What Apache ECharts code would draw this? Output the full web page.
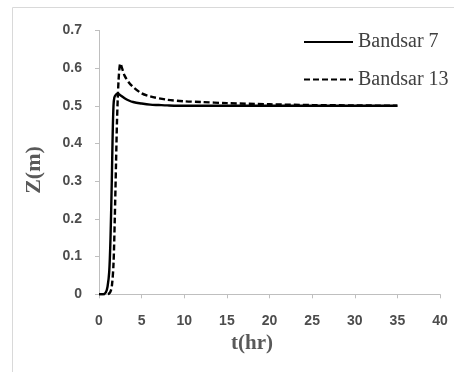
<!DOCTYPE html>
<html><head><meta charset="utf-8">
<script src="https://cdn.jsdelivr.net/npm/echarts@6/dist/echarts.min.js"></script>
<style>html,body{margin:0;padding:0;background:#fff}#c{width:454px;height:372px}</style>
</head><body><div id="c"></div>
<script>
const seriesNames = ['Bandsar 7', 'Bandsar 13'];
const tSolid = [0, 0.5, 0.8, 1.0, 1.2, 1.35, 1.5, 1.6, 1.7, 1.8, 2.0, 2.2, 2.5, 3, 3.5, 4, 5, 6, 7, 8, 10, 15, 20, 25, 30, 35];
const zSolid = [0, 0, 0.005, 0.02, 0.06, 0.15, 0.3, 0.42, 0.5, 0.522, 0.53, 0.532, 0.528, 0.52, 0.514, 0.51, 0.506, 0.503, 0.502, 0.501, 0.5, 0.5, 0.5, 0.5, 0.5, 0.5];
const tDash = [0, 1.0, 1.3, 1.5, 1.7, 1.85, 2.0, 2.1, 2.2, 2.3, 2.4, 2.5, 2.7, 3, 3.5, 4, 5, 6, 8, 10, 12, 15, 20, 25, 30, 35];
const zDash = [0, 0, 0.005, 0.02, 0.08, 0.2, 0.35, 0.45, 0.52, 0.57, 0.6, 0.612, 0.6, 0.58, 0.562, 0.55, 0.533, 0.525, 0.516, 0.512, 0.51, 0.507, 0.504, 0.502, 0.501, 0.5];
const xTitle = 't(hr)';
const yTitle = 'Z(m)';

const zip = (a, b) => a.map((v, i) => [v, b[i]]);
const chart = echarts.init(document.getElementById('c'));
const tickLabel = {color: '#4d4d4d', fontWeight: 'bold', fontSize: 14, fontFamily: 'Liberation Sans'};
chart.setOption({
  animation: false,
  grid: {left: 99, right: 14, top: 30.4, bottom: 77.7},
  graphic: [
    {type: 'rect', shape: {x: 12.5, y: 7.5, width: 460, height: 420}, style: {fill: 'none', stroke: '#d9d9d9', lineWidth: 1}, silent: true},
    {type: 'text', x: 252, y: 344, style: {text: xTitle, fill: '#595959', font: 'bold 21px "Liberation Serif"', align: 'center', verticalAlign: 'middle'}},
    {type: 'text', x: 34, y: 170, rotation: Math.PI / 2, style: {text: yTitle, fill: '#595959', font: 'bold 22px "Liberation Serif"', align: 'center', verticalAlign: 'middle'}}
  ],
  legend: {
    orient: 'vertical', left: 298, top: 27, itemWidth: 49, itemHeight: 20, itemGap: 17.5,
    itemStyle: {opacity: 0},
    textStyle: {fontFamily: 'Liberation Serif', fontSize: 20, color: '#404040'},
    data: seriesNames
  },
  xAxis: {
    type: 'value', min: 0, max: 40, interval: 5,
    axisLine: {lineStyle: {color: '#bfbfbf'}},
    axisTick: {show: true, length: 4, lineStyle: {color: '#bfbfbf'}},
    splitLine: {show: false},
    axisLabel: Object.assign({margin: 20}, tickLabel)
  },
  yAxis: {
    type: 'value', min: 0, max: 0.7, interval: 0.1,
    axisLine: {show: true, lineStyle: {color: '#bfbfbf'}},
    axisTick: {show: true, length: 4, lineStyle: {color: '#bfbfbf'}},
    splitLine: {show: false},
    axisLabel: Object.assign({margin: 17, formatter: v => v === 0 ? '0' : v.toFixed(1)}, tickLabel)
  },
  series: [
    {name: seriesNames[0], type: 'line', symbol: 'none', smooth: 0.3, data: zip(tSolid, zSolid),
     lineStyle: {color: '#000', width: 2.4, type: 'solid'}, itemStyle: {color: '#000'}},
    {name: seriesNames[1], type: 'line', symbol: 'none', smooth: 0.3, data: zip(tDash, zDash),
     lineStyle: {color: '#000', width: 2.4, type: [6, 3]}, itemStyle: {color: '#000'}}
  ]
});
</script></body></html>
